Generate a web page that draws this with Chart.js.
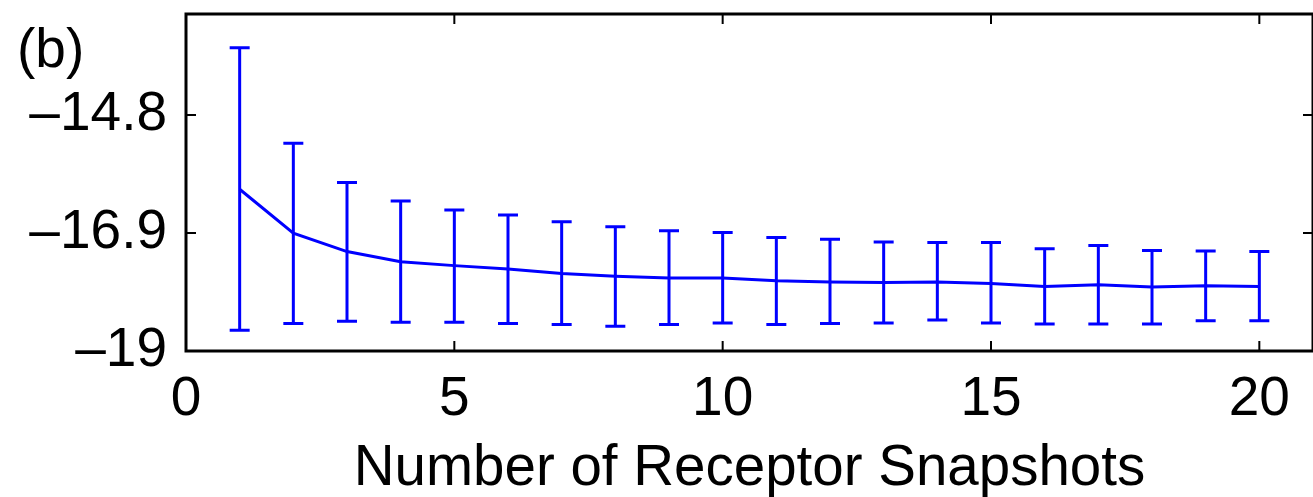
<!DOCTYPE html>
<html>
<head>
<meta charset="utf-8">
<script src="https://cdn.jsdelivr.net/npm/chart.js@4.4.0/dist/chart.umd.min.js"></script>
<style>
html, body { margin: 0; padding: 0; background: #fff; }
#wrap { width: 1313px; height: 497px; }
</style>
</head>
<body>
<div id="wrap"><canvas id="myChart" width="1313" height="497"></canvas></div>
<script>
// values
const snapshots = [1, 2, 3, 4, 5, 6, 7, 8, 9, 10, 11, 12, 13, 14, 15, 16, 17, 18, 19, 20];
const meanScore = [-16.12, -16.90, -17.23, -17.41, -17.48, -17.54, -17.62, -17.67, -17.70, -17.70,
                   -17.75, -17.77, -17.78, -17.77, -17.80, -17.85, -17.82, -17.86, -17.84, -17.85];
const upperBound = [-13.60, -15.30, -16.00, -16.33, -16.49, -16.58, -16.70, -16.79, -16.86, -16.89,
                    -16.98, -17.01, -17.06, -17.07, -17.07, -17.18, -17.12, -17.21, -17.22, -17.23];
const lowerBound = [-18.63, -18.51, -18.47, -18.49, -18.49, -18.51, -18.53, -18.56, -18.53, -18.50,
                    -18.53, -18.51, -18.50, -18.45, -18.50, -18.52, -18.52, -18.52, -18.46, -18.46];
const xTicks = [0, 5, 10, 15, 20];
const yTicks = [-19, -16.9, -14.8];

const fontFamily = "'Liberation Sans', Arial, Helvetica, sans-serif";
const blue = '#0000ff';

// error bars drawn through the chart scales
const errorBars = {
    id: 'errorBars',
    afterDatasetsDraw(chart) {
        const { ctx, scales: { x, y } } = chart;
        ctx.save();
        ctx.strokeStyle = blue;
        ctx.lineWidth = 3;
        ctx.lineCap = 'butt';
        for (let i = 0; i < snapshots.length; i++) {
            const px = x.getPixelForValue(snapshots[i]);
            const top = y.getPixelForValue(upperBound[i]);
            const bottom = y.getPixelForValue(lowerBound[i]);
            ctx.beginPath();
            ctx.moveTo(px, top);
            ctx.lineTo(px, bottom);
            ctx.moveTo(px - 10, top);
            ctx.lineTo(px + 10, top);
            ctx.moveTo(px - 10, bottom);
            ctx.lineTo(px + 10, bottom);
            ctx.stroke();
        }
        ctx.restore();
    }
};

// box around the plot with inward tick marks, plus the panel label
const frame = {
    id: 'frame',
    afterDraw(chart) {
        const { ctx, chartArea: a, scales: { x, y } } = chart;
        ctx.save();
        ctx.strokeStyle = '#000';
        ctx.lineWidth = 2;
        ctx.beginPath();
        for (let v of xTicks) {
            const px = x.getPixelForValue(v);
            ctx.moveTo(px, a.bottom);
            ctx.lineTo(px, a.bottom - 10);
            ctx.moveTo(px, a.top);
            ctx.lineTo(px, a.top + 10);
        }
        for (let v of yTicks) {
            const py = y.getPixelForValue(v);
            ctx.moveTo(a.left, py);
            ctx.lineTo(a.left + 10, py);
            ctx.moveTo(a.right, py);
            ctx.lineTo(a.right - 10, py);
        }
        ctx.stroke();
        ctx.lineWidth = 3;
        ctx.strokeRect(a.left, a.top, a.right - a.left, a.bottom - a.top);

        ctx.fillStyle = '#000';
        ctx.font = '55px ' + fontFamily;
        ctx.textAlign = 'left';
        ctx.textBaseline = 'alphabetic';
        ctx.fillText('(b)', 17, 67);
        ctx.restore();
    }
};

const ctx = document.getElementById('myChart').getContext('2d');
new Chart(ctx, {
    type: 'scatter',
    data: {
        datasets: [{
            data: snapshots.map((s, i) => ({ x: s, y: meanScore[i] })),
            showLine: true,
            borderColor: blue,
            borderWidth: 3,
            pointRadius: 0,
            fill: false,
            tension: 0
        }]
    },
    options: {
        responsive: false,
        animation: false,
        devicePixelRatio: 1,
        layout: { padding: { left: 0, right: 0, top: 14, bottom: 0 } },
        plugins: {
            legend: { display: false },
            tooltip: { enabled: false }
        },
        scales: {
            x: {
                type: 'linear',
                position: 'bottom',
                min: 0,
                max: 21,
                afterBuildTicks: (s) => { s.ticks = xTicks.map(v => ({ value: v })); },
                afterFit: (s) => {
                    s.height = 146;
                    s.paddingLeft = 0;
                    s.paddingRight = 0;
                },
                grid: { display: false, drawTicks: false },
                border: { display: false },
                ticks: {
                    color: '#000',
                    font: { family: fontFamily, size: 55 },
                    padding: 16,
                    maxRotation: 0,
                    autoSkip: false
                },
                title: {
                    display: true,
                    text: 'Number of Receptor Snapshots',
                    color: '#000',
                    font: { family: fontFamily, size: 56.5 },
                    padding: { top: 0, bottom: -6 }
                }
            },
            y: {
                type: 'linear',
                min: -19,
                max: -13,
                afterBuildTicks: (s) => { s.ticks = yTicks.map(v => ({ value: v })); },
                afterFit: (s) => {
                    s.width = 186;
                    s.paddingTop = 0;
                    s.paddingBottom = 0;
                },
                grid: { display: false, drawTicks: false },
                border: { display: false },
                ticks: {
                    color: '#000',
                    font: { family: fontFamily, size: 55 },
                    padding: 19,
                    autoSkip: false,
                    callback: (v) => '\u2013' + Math.abs(v)
                }
            }
        }
    },
    plugins: [errorBars, frame]
});
</script>
</body>
</html>
